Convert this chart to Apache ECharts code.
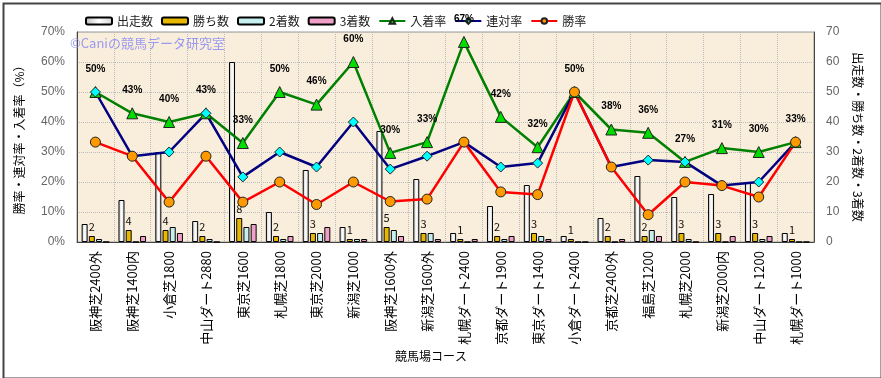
<!DOCTYPE html>
<html>
<head>
<meta charset="utf-8">
<script src="https://cdn.jsdelivr.net/npm/echarts@6/dist/echarts.min.js"></script>
<style>
  html, body { margin: 0; padding: 0; background: #fff; }
  #chart { width: 881px; height: 378px; }
</style>
</head>
<body>
<div id="chart"></div>
<script>
// コース名
var courses = ['阪神芝2400外', '阪神芝1400内', '小倉芝1800', '中山ダート2880', '東京芝1600',
  '札幌芝1800', '東京芝2000', '新潟芝1000', '阪神芝1600外', '新潟芝1600外',
  '札幌ダート2400', '京都ダート1900', '東京ダート1400', '小倉ダート2400', '京都芝2400外',
  '福島芝1200', '札幌芝2000', '新潟芝2000内', '中山ダート1200', '札幌ダート1000']

// 出走数・勝ち数・2着数・3着数
var runs   = [6, 14, 30, 7, 60, 10, 24, 5, 37, 21, 3, 12, 19, 2, 8, 22, 15, 16, 20, 3]
var wins   = [2, 4, 4, 2, 8, 2, 3, 1, 5, 3, 1, 2, 3, 1, 2, 2, 3, 3, 3, 1]
var second = [1, 0, 5, 1, 5, 1, 3, 1, 4, 3, 0, 1, 2, 0, 0, 4, 1, 0, 1, 0]
var third  = [0, 2, 3, 0, 6, 2, 5, 1, 2, 1, 1, 2, 1, 0, 1, 2, 0, 2, 2, 0]

// 率 (%)
var placeRate = [50, 42.9, 40, 42.9, 33, 50, 45.8, 60, 29.7, 33.3, 66.7, 41.7, 31.6, 50, 37.5, 36.4, 26.7, 31.3, 30, 33.3]
var quinRate  = [50, 28.6, 30, 42.9, 21.7, 30, 25, 40, 24.3, 28.6, 33.3, 25, 26.3, 50, 25, 27.3, 26.7, 18.8, 20, 33.3]
var winRate   = [33.3, 28.6, 13.3, 28.6, 13.3, 20, 12.5, 20, 13.5, 14.3, 33.3, 16.7, 15.8, 50, 25, 9.1, 20, 18.8, 15, 33.3]

var font = '"Noto Sans CJK JP", "Liberation Sans", sans-serif'

var chart = echarts.init(document.getElementById('chart'))

function barSeries(name, data, fill, label) {
  return {
    name: name,
    type: 'bar',
    yAxisIndex: 1,
    barWidth: 6,
    barGap: '20%',
    data: data,
    itemStyle: { color: fill, borderColor: '#000', borderWidth: 1 },
    label: label ? {
      show: true, position: 'top', distance: 4, color: '#111', fontSize: 11, fontFamily: font,
      formatter: function (p) { return p.value }
    } : { show: false },
    z: 2
  }
}

function lineSeries(name, data, color, symbol, fill, size, label) {
  return {
    name: name,
    type: 'line',
    yAxisIndex: 0,
    data: data,
    symbol: symbol,
    symbolSize: size,
    lineStyle: { color: color, width: 2.5 },
    itemStyle: { color: fill, borderColor: '#222', borderWidth: 1 },
    label: label ? {
      show: true, position: 'top', distance: 12, color: '#000', fontSize: 10, fontWeight: 'bold',
      fontFamily: 'Liberation Sans, sans-serif',
      formatter: function (p) { return Math.round(p.value) + '%' }
    } : { show: false },
    z: 5
  }
}

var whiteFill = new echarts.graphic.LinearGradient(0, 0, 1, 0, [
  { offset: 0, color: '#bdbdbd' }, { offset: 0.5, color: '#ffffff' }, { offset: 1, color: '#d0d0d0' }
])

var option = {
  backgroundColor: '#fff',
  animation: false,
  textStyle: { fontFamily: font },
  legend: {
    top: 10,
    left: 80,
    itemWidth: 26,
    itemHeight: 7,
    itemGap: 8,
    textStyle: { fontSize: 12, color: '#222', fontFamily: font },
    data: ['出走数', '勝ち数', '2着数', '3着数', '入着率', '連対率', '勝率']
  },
  grid: {
    left: 77, right: 67, top: 32, height: 210,
    show: true, backgroundColor: '#f9eedb', borderColor: '#999', borderWidth: 1
  },
  xAxis: {
    type: 'category',
    data: courses,
    axisLine: { lineStyle: { color: '#444' } },
    axisTick: { show: false },
    splitLine: { show: true, lineStyle: { color: '#bbb', type: 'dotted' } },
    axisLabel: { rotate: 90, margin: 9, fontSize: 13, color: '#000', fontFamily: font, interval: 0 }
  },
  yAxis: [
    {
      type: 'value', min: 0, max: 70, interval: 10,
      name: '勝率・連対率・入着率（%）',
      nameLocation: 'middle', nameGap: 52,
      nameTextStyle: { fontSize: 12, color: '#000', fontFamily: font },
      axisLine: { show: true, lineStyle: { color: '#444' } },
      axisTick: { show: false },
      axisLabel: { formatter: '{value}%', fontSize: 12, color: '#666', margin: 12, fontFamily: 'Liberation Sans, sans-serif' },
      splitLine: { show: true, lineStyle: { color: '#bbb', type: 'dotted' } }
    },
    {
      type: 'value', min: 0, max: 70, interval: 10,
      name: '出走数・勝ち数・2着数・3着数',
      nameLocation: 'middle', nameGap: 38, nameRotate: -90,
      nameTextStyle: { fontSize: 12, color: '#000', fontFamily: font },
      axisLine: { show: true, lineStyle: { color: '#444' } },
      axisTick: { show: false },
      axisLabel: { fontSize: 12, color: '#666', margin: 12, fontFamily: 'Liberation Sans, sans-serif' },
      splitLine: { show: false }
    }
  ],
  graphic: [
    {
      type: 'rect', left: 1, top: 1, z: 100, silent: true,
      shape: { width: 878, height: 375 },
      style: { fill: 'none', stroke: '#444', lineWidth: 2 }
    },
    {
      type: 'text', left: 70, top: 37, z: 100,
      style: { text: '©Caniの競馬データ研究室', fill: '#9a9af0', font: '13px ' + font }
    },
    {
      type: 'text', left: 395, top: 350, z: 100,
      style: { text: '競馬場コース', fill: '#000', font: '12px ' + font }
    }
  ],
  series: [
    barSeries('出走数', runs, whiteFill, false),
    barSeries('勝ち数', wins, '#e8b800', true),
    barSeries('2着数', second, '#c6f0f0', false),
    barSeries('3着数', third, '#f0a0c8', false),
    lineSeries('入着率', placeRate, '#008000', 'triangle', '#00dd00', 11, true),
    lineSeries('連対率', quinRate, '#000080', 'diamond', '#00ffff', 10, false),
    lineSeries('勝率', winRate, '#ff0000', 'circle', '#ff9900', 10, false)
  ]
}

chart.setOption(option)
</script>
</body>
</html>
